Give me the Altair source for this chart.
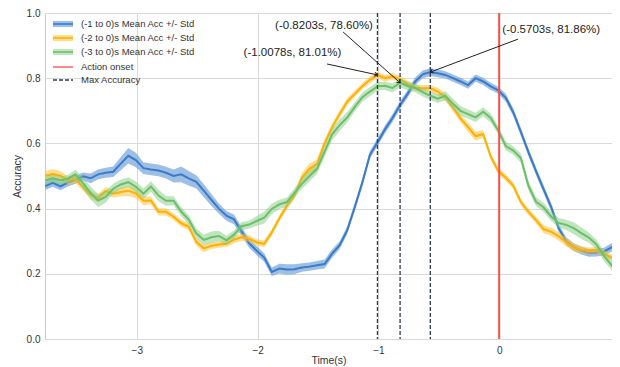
import math
import altair as alt
import pandas as pd

# ---------------- data ----------------
time_s = [round(-3.7578125 + i * 0.0625, 4) for i in range(77)]

series_names = ["(-1 to 0)s Mean Acc +/- Std",
                "(-2 to 0)s Mean Acc +/- Std",
                "(-3 to 0)s Mean Acc +/- Std"]

blue_mean = [0.469, 0.479, 0.468, 0.480, 0.488, 0.499, 0.493, 0.505, 0.510, 0.513,
             0.538, 0.562, 0.549, 0.524, 0.520, 0.517, 0.510, 0.500, 0.505, 0.493,
             0.482, 0.455, 0.427, 0.400, 0.378, 0.367, 0.330, 0.294, 0.271, 0.250,
             0.206, 0.216, 0.213, 0.214, 0.219, 0.222, 0.226, 0.230, 0.262, 0.288,
             0.334, 0.405, 0.480, 0.565, 0.603, 0.643, 0.678, 0.718, 0.752, 0.790,
             0.812, 0.8186, 0.815, 0.810, 0.800, 0.790, 0.779, 0.800, 0.790, 0.775,
             0.763, 0.740, 0.695, 0.635, 0.573, 0.515, 0.460, 0.405, 0.340, 0.300,
             0.282, 0.271, 0.264, 0.265, 0.268, 0.281, 0.278]
blue_std = [0.012, 0.012, 0.012, 0.012, 0.012, 0.012, 0.015, 0.015, 0.015, 0.016,
            0.020, 0.024, 0.022, 0.018, 0.018, 0.018, 0.018, 0.020, 0.024, 0.022,
            0.020, 0.020, 0.018, 0.016, 0.015, 0.015, 0.014, 0.014, 0.014, 0.013,
            0.013, 0.015, 0.016, 0.015, 0.013, 0.013, 0.013, 0.014, 0.013, 0.012,
            0.012, 0.012, 0.012, 0.012, 0.012, 0.012, 0.012, 0.012, 0.012, 0.012,
            0.012, 0.012, 0.012, 0.011, 0.011, 0.011, 0.011, 0.011, 0.011, 0.011,
            0.011, 0.012, 0.012, 0.012, 0.012, 0.012, 0.012, 0.012, 0.012, 0.012,
            0.012, 0.012, 0.012, 0.012, 0.012, 0.013, 0.013]

orange_mean = [0.501, 0.506, 0.501, 0.487, 0.490, 0.466, 0.442, 0.433, 0.454, 0.446,
               0.451, 0.455, 0.447, 0.424, 0.425, 0.390, 0.390, 0.375, 0.355, 0.345,
               0.298, 0.278, 0.286, 0.290, 0.292, 0.305, 0.312, 0.308, 0.296, 0.292,
               0.327, 0.370, 0.408, 0.440, 0.495, 0.522, 0.537, 0.600, 0.650, 0.690,
               0.728, 0.752, 0.775, 0.795, 0.8101, 0.800, 0.806, 0.797, 0.782, 0.771,
               0.769, 0.769, 0.759, 0.741, 0.710, 0.677, 0.650, 0.622, 0.629, 0.560,
               0.515, 0.495, 0.470, 0.420, 0.390, 0.365, 0.337, 0.329, 0.315, 0.297,
               0.281, 0.274, 0.271, 0.273, 0.262, 0.250, 0.237]
orange_std = [0.015, 0.015, 0.014, 0.012, 0.012, 0.012, 0.012, 0.012, 0.012, 0.012,
              0.014, 0.016, 0.015, 0.014, 0.012, 0.011, 0.011, 0.011, 0.011, 0.011,
              0.012, 0.012, 0.010, 0.010, 0.010, 0.011, 0.011, 0.010, 0.010, 0.010,
              0.010, 0.010, 0.011, 0.012, 0.014, 0.016, 0.014, 0.012, 0.011, 0.011,
              0.011, 0.010, 0.010, 0.010, 0.010, 0.010, 0.010, 0.010, 0.010, 0.010,
              0.010, 0.010, 0.012, 0.012, 0.012, 0.012, 0.014, 0.014, 0.012, 0.010,
              0.010, 0.010, 0.010, 0.010, 0.010, 0.011, 0.012, 0.012, 0.013, 0.013,
              0.012, 0.011, 0.010, 0.010, 0.010, 0.010, 0.010]

green_mean = [0.486, 0.493, 0.486, 0.492, 0.505, 0.478, 0.448, 0.425, 0.436, 0.461,
              0.474, 0.481, 0.467, 0.446, 0.468, 0.440, 0.424, 0.424, 0.391, 0.366,
              0.324, 0.304, 0.312, 0.316, 0.303, 0.320, 0.346, 0.351, 0.362, 0.372,
              0.399, 0.413, 0.420, 0.448, 0.476, 0.500, 0.522, 0.575, 0.628, 0.656,
              0.680, 0.712, 0.742, 0.759, 0.775, 0.777, 0.770, 0.786, 0.776, 0.770,
              0.757, 0.746, 0.737, 0.746, 0.722, 0.700, 0.690, 0.680, 0.697, 0.678,
              0.640, 0.592, 0.578, 0.555, 0.470, 0.421, 0.404, 0.376, 0.356, 0.350,
              0.340, 0.325, 0.311, 0.290, 0.255, 0.227, 0.199]
green_std = [0.012, 0.012, 0.012, 0.012, 0.014, 0.018, 0.020, 0.020, 0.018, 0.015,
             0.015, 0.015, 0.016, 0.016, 0.016, 0.018, 0.015, 0.014, 0.014, 0.014,
             0.015, 0.016, 0.018, 0.016, 0.014, 0.013, 0.013, 0.012, 0.015, 0.018,
             0.016, 0.014, 0.014, 0.014, 0.016, 0.016, 0.016, 0.016, 0.018, 0.018,
             0.016, 0.014, 0.014, 0.014, 0.013, 0.013, 0.014, 0.014, 0.013, 0.013,
             0.013, 0.013, 0.013, 0.014, 0.015, 0.015, 0.014, 0.014, 0.014, 0.014,
             0.013, 0.013, 0.013, 0.014, 0.014, 0.014, 0.014, 0.014, 0.015, 0.016,
             0.018, 0.018, 0.016, 0.015, 0.015, 0.015, 0.015]

peak_time = [-1.0078, -0.8203, -0.5703]
peak_acc = [0.8101, 0.7860, 0.8186]
peak_label = ["(-1.0078s, 81.01%)", "(-0.8203s, 78.60%)", "(-0.5703s, 81.86%)"]
onset_time = [0.0]

x_ticks = [-3, -2, -1, 0]
y_ticks = [0.0, 0.2, 0.4, 0.6, 0.8, 1.0]

# ---------------- style ----------------
W, H = 567, 326
X_DOM = [-3.76, 0.934]
FONT = "Liberation Sans"
line_col = ["#3a7bc8", "#ffb000", "#6cbf6a"]
band_col = ["#5b92d3", "#ffc23a", "#84cc80"]
band_op = [0.6, 0.55, 0.5]
dash_col = "#2b3d5b"
red_col = "#ff4a4a"
txt_col = "#333333"

xs = alt.Scale(domain=X_DOM, nice=False, zero=False)
ys = alt.Scale(domain=[0, 1], nice=False, zero=False)
xax = alt.Axis(values=x_ticks, format="d", title="Time(s)", grid=True, ticks=False,
               domain=False, labelPadding=6, titleY=21, titleBaseline="middle",
               titleFontWeight="normal", titleFont=FONT, labelFont=FONT,
               labelFontSize=10, titleFontSize=10.5, labelColor=txt_col,
               titleColor=txt_col, gridColor="#d9d9d9")
yax = alt.Axis(values=y_ticks, format=".1f", title="Accuracy", grid=True, ticks=False,
               domain=False, labelPadding=5, titlePadding=4,
               titleFontWeight="normal", titleFont=FONT, labelFont=FONT,
               labelFontSize=10, titleFontSize=10.5, labelColor=txt_col,
               titleColor=txt_col, gridColor="#d9d9d9")

means = [blue_mean, orange_mean, green_mean]
stds = [blue_std, orange_std, green_std]

layers = []
for k in range(3):
    df = pd.DataFrame({"t": time_s, "m": means[k], "s": stds[k]})
    df["lo"] = df["m"] - df["s"]
    df["hi"] = df["m"] + df["s"]
    base = alt.Chart(df)
    band = base.mark_area(color=band_col[k], opacity=band_op[k], clip=True).encode(
        x=alt.X("t:Q", scale=xs, axis=xax),
        y=alt.Y("lo:Q", scale=ys, axis=yax),
        y2="hi:Q")
    line = base.mark_line(color=line_col[k], strokeWidth=2, clip=True).encode(
        x=alt.X("t:Q", scale=xs, axis=xax),
        y=alt.Y("m:Q", scale=ys, axis=yax))
    layers += [band, line]

onset = alt.Chart(pd.DataFrame({"t": onset_time})).mark_rule(
    color=red_col, strokeWidth=2).encode(x=alt.X("t:Q", scale=xs, axis=xax))
peaks_df = pd.DataFrame({"t": peak_time, "acc": peak_acc, "label": peak_label})
vlines = alt.Chart(peaks_df).mark_rule(
    color=dash_col, strokeWidth=1.3, strokeDash=[4, 2]).encode(
    x=alt.X("t:Q", scale=xs, axis=xax))
layers += [vlines, onset]

# annotation text anchors (layout, in axis units) and arrow tails
text_pos = [(-1.711, 0.877), (-1.45, 0.960), (0.431, 0.948)]
tail_pos = [(-1.425, 0.8436), (-1.292, 0.9417), (0.157, 0.920)]
pxu = W / (X_DOM[1] - X_DOM[0])
pyu = H / 1.0
for k in range(3):
    tx, ty = tail_pos[k]
    hx, hy = peak_time[k], peak_acc[k]
    d = pd.DataFrame({"x": [tx], "y": [ty], "x2": [hx], "y2": [hy],
                      "lx": [text_pos[k][0]], "ly": [text_pos[k][1]],
                      "label": [peak_label[k]]})
    dx = (hx - tx) * pxu
    dy = -(hy - ty) * pyu
    ang = math.degrees(math.atan2(dx, -dy)) % 360
    b = alt.Chart(d)
    layers.append(b.mark_rule(color="#222222", strokeWidth=1).encode(
        x=alt.X("x:Q", scale=xs, axis=xax), y=alt.Y("y:Q", scale=ys, axis=yax),
        x2="x2:Q", y2="y2:Q"))
    layers.append(b.mark_point(shape="M -0.5 0.7 L 0 0 L 0.5 0.7", filled=False,
                               size=70, color="#222222", strokeWidth=1,
                               angle=ang, opacity=1).encode(
        x=alt.X("x2:Q", scale=xs, axis=xax), y=alt.Y("y2:Q", scale=ys, axis=yax)))
    layers.append(b.mark_text(font=FONT, fontSize=11.5, color="#222222",
                              align="center", baseline="middle").encode(
        x=alt.X("lx:Q", scale=xs, axis=xax), y=alt.Y("ly:Q", scale=ys, axis=yax),
        text="label:N"))

# manual legend (pixel layout)
leg_labels = series_names + ["Action onset", "Max Accuracy"]
row_y = [11, 25, 39, 54, 67]
one = pd.DataFrame({"a": [0]})
for r in range(5):
    c = alt.Chart(one)
    y = alt.value(row_y[r])
    if r < 3:
        layers.append(c.mark_rule(color=band_col[r], opacity=band_op[r], strokeWidth=6).encode(
            x=alt.value(8), x2=alt.value(28), y=y))
        layers.append(c.mark_rule(color=line_col[r], strokeWidth=1.6).encode(
            x=alt.value(8), x2=alt.value(28), y=y))
    elif r == 3:
        layers.append(c.mark_rule(color=red_col, strokeWidth=1.3).encode(
            x=alt.value(8), x2=alt.value(28), y=y))
    else:
        layers.append(c.mark_rule(color=dash_col, strokeWidth=1.6, strokeDash=[4, 2]).encode(
            x=alt.value(8), x2=alt.value(28), y=y))
    layers.append(c.mark_text(font=FONT, fontSize=9.5, color=txt_col, align="left",
                              baseline="middle").encode(
        x=alt.value(36), y=y, text=alt.value(leg_labels[r])))

chart = alt.layer(*layers).properties(
    width=W, height=H, background="white",
    padding={"left": 4, "top": 0, "right": 0, "bottom": 0}
).configure_view(stroke="#cccccc", strokeWidth=1)

chart.save("out.html", embed_options={"renderer": "svg", "actions": False})
